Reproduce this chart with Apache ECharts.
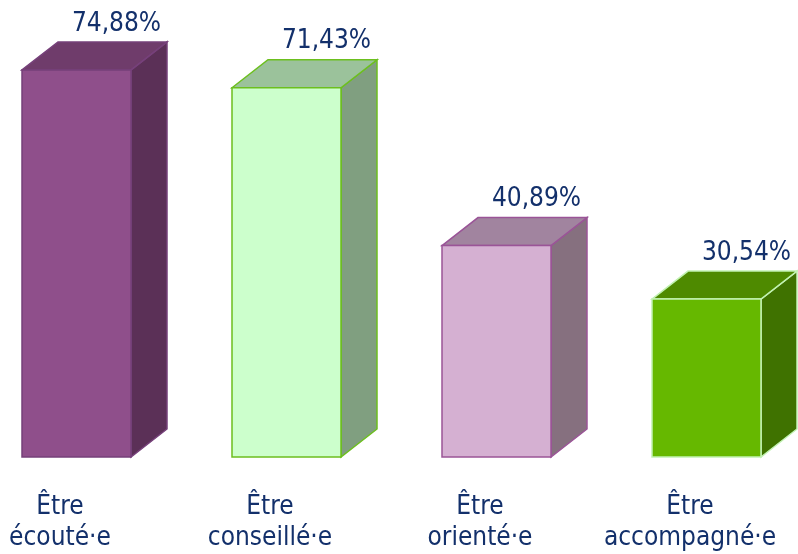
<!DOCTYPE html>
<html>
<head>
<meta charset="utf-8">
<script src="https://cdn.jsdelivr.net/npm/echarts@6/dist/echarts.min.js"></script>
<style>
  html, body { margin: 0; padding: 0; background: #fff; }
  #chart { width: 798px; height: 554px; }
</style>
</head>
<body>
<div id="chart"></div>
<script>
// 数据
const categories = ['Être\nécouté·e', 'Être\nconseillé·e', 'Être\norienté·e', 'Être\naccompagné·e']
const values = [74.88, 71.43, 40.89, 30.54]

// 每根柱子的颜色：正面 / 顶面 / 侧面 / 边框
const barColors = [
  { front: '#8F4F8B', top: '#6F3C6B', side: '#5B3057', border: '#76407A' },
  { front: '#CCFFCC', top: '#9BC29B', side: '#809F80', border: '#6CBF1E' },
  { front: '#D5B0D2', top: '#A1849F', side: '#86707F', border: '#9A5497' },
  { front: '#66B800', top: '#4E8A00', side: '#3F7200', border: '#C2F2B2' }
]

const textColor = '#13306B'
const fontFamily = '"DejaVu Sans Condensed", "DejaVu Sans", sans-serif'

const depthX = 36   // 立体深度（水平）
const depthY = 28   // 立体深度（垂直）
const halfWidth = 54.5
const shift = 16.5  // 柱子相对类目中心的偏移

function fmt(v) {
  return v.toFixed(2).replace('.', ',') + '%'
}

function renderBar(params, api) {
  let idx = api.value(0)
  let top = api.coord([idx, api.value(1)])
  let base = api.coord([idx, 0])
  let cx = top[0] + shift
  let x0 = cx - halfWidth
  let x1 = cx + halfWidth
  let y0 = top[1]
  let y1 = base[1]
  let c = barColors[idx]
  let lw = 1.5
  return {
    type: 'group',
    children: [
      { // 侧面
        type: 'polygon',
        shape: { points: [[x1, y0], [x1 + depthX, y0 - depthY], [x1 + depthX, y1 - depthY], [x1, y1]] },
        style: { fill: c.side, stroke: c.border, lineWidth: lw }
      },
      { // 顶面
        type: 'polygon',
        shape: { points: [[x0, y0], [x0 + depthX, y0 - depthY], [x1 + depthX, y0 - depthY], [x1, y0]] },
        style: { fill: c.top, stroke: c.border, lineWidth: lw }
      },
      { // 正面
        type: 'rect',
        shape: { x: x0, y: y0, width: x1 - x0, height: y1 - y0 },
        style: { fill: c.front, stroke: c.border, lineWidth: lw }
      },
      { // 数值标签
        type: 'text',
        style: {
          text: fmt(api.value(1)),
          x: cx + depthX + 4,
          y: y0 - depthY - 18,
          align: 'center',
          verticalAlign: 'middle',
          fill: textColor,
          fontSize: 26,
          fontFamily: fontFamily
        }
      }
    ]
  }
}

let chart = echarts.init(document.getElementById('chart'), null, { renderer: 'canvas' })

let option = {
  animation: false,
  grid: { left: 60, right: 108, top: 0, bottom: 95 },
  xAxis: {
    type: 'category',
    data: categories,
    boundaryGap: false,
    axisLine: { show: false },
    axisTick: { show: false },
    axisLabel: {
      interval: 0,
      margin: 35,
      color: textColor,
      fontSize: 26,
      lineHeight: 31,
      fontFamily: fontFamily
    }
  },
  yAxis: {
    type: 'value',
    min: 0,
    max: 88.4,
    show: false
  },
  series: [{
    type: 'custom',
    renderItem: renderBar,
    data: values.map((v, i) => [i, v]),
    encode: { x: 0, y: 1 }
  }]
}

chart.setOption(option)
</script>
</body>
</html>
